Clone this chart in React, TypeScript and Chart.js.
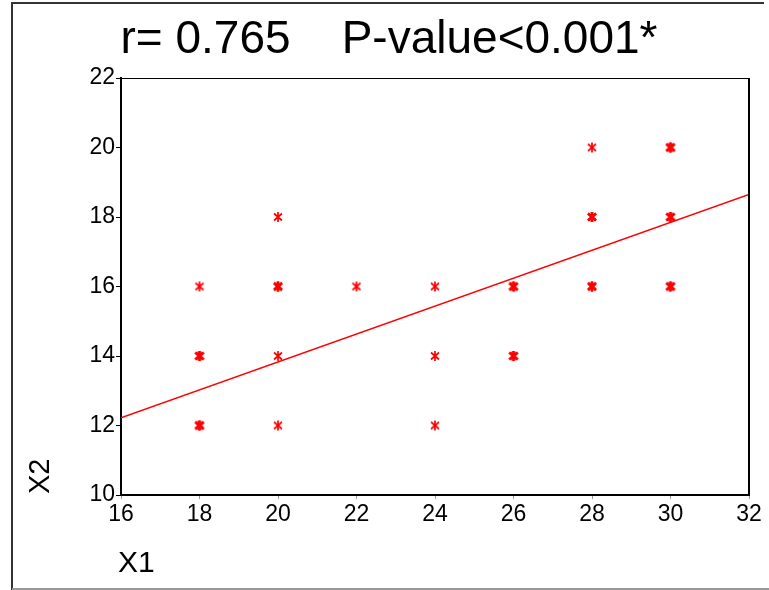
import React, { useEffect, useRef } from "react";
import { Chart, registerables } from "chart.js";

Chart.register(...registerables);

const titleText = "r= 0.765    P-value<0.001*";
const xTitle = "X1";
const yTitle = "X2";

// observed points (repeats = overlapping observations)
const x1Values = [18, 18, 18, 18, 18, 20, 20, 20, 20, 20, 22, 24, 24, 24, 26, 26, 26, 26, 28, 28, 28, 28, 28, 30, 30, 30, 30, 30, 30];
const x2Values = [16, 14, 14, 12, 12, 18, 16, 16, 14, 12, 16, 16, 14, 12, 16, 16, 14, 14, 20, 18, 18, 16, 16, 20, 20, 18, 18, 16, 16];

// fitted regression line end points
const fitX = [16, 32];
const fitY = [12.22, 18.65];

const xTicks = [16, 18, 20, 22, 24, 26, 28, 30, 32];
const yTicks = [10, 12, 14, 16, 18, 20, 22];

function makeStar(lw: number): HTMLCanvasElement {
  const c = document.createElement("canvas");
  c.width = 12;
  c.height = 12;
  const g = c.getContext("2d")!;
  g.strokeStyle = "#ff0000";
  g.lineWidth = lw;
  g.lineCap = "butt";
  g.beginPath();
  g.moveTo(6, 1);
  g.lineTo(6, 11);
  g.moveTo(2, 2.5);
  g.lineTo(10, 9.5);
  g.moveTo(10, 2.5);
  g.lineTo(2, 9.5);
  g.stroke();
  return c;
}

export default function App() {
  const ref = useRef<HTMLCanvasElement | null>(null);
  useEffect(() => {
    document.body.style.margin = "0";
    const canvas = ref.current!;
    const thin = makeStar(1.7);
    const bold = makeStar(2.5);
    const pts = x1Values.map((x, i) => ({ x, y: x2Values[i] }));
    const counts = pts.map((p) => pts.filter((q) => q.x === p.x && q.y === p.y).length);

    const framePlugin = {
      id: "frame",
      beforeDraw(chart: any) {
        const c = chart.ctx;
        c.save();
        c.fillStyle = "#fff";
        c.fillRect(0, 0, chart.width, chart.height);
        c.strokeStyle = "#333";
        c.lineWidth = 2;
        c.beginPath();
        c.moveTo(12, 590);
        c.lineTo(12, 3);
        c.lineTo(764, 3);
        c.stroke();
        c.strokeStyle = "#999";
        c.beginPath();
        c.moveTo(12, 589);
        c.lineTo(769, 589);
        c.stroke();
        c.restore();
      },
      afterDraw(chart: any) {
        const c = chart.ctx;
        const a = chart.chartArea;
        c.save();
        c.strokeStyle = "#000";
        c.lineWidth = 1;
        c.beginPath();
        c.moveTo(a.left, a.top + 0.5);
        c.lineTo(a.right, a.top + 0.5);
        c.stroke();
        c.lineWidth = 2;
        c.beginPath();
        c.moveTo(a.right, a.top);
        c.lineTo(a.right, a.bottom);
        c.stroke();
        c.fillStyle = "#000";
        c.font = "46px 'Liberation Sans', Arial, sans-serif";
        c.textAlign = "center";
        c.textBaseline = "alphabetic";
        c.fillText(titleText, 389, 53);
        c.font = "30px 'Liberation Sans', Arial, sans-serif";
        c.textAlign = "left";
        c.fillText(xTitle, 118, 572);
        c.translate(49, 494);
        c.rotate(-Math.PI / 2);
        c.font = "29px 'Liberation Sans', Arial, sans-serif";
        c.fillText(yTitle, 0, 0);
        c.restore();
      },
    };

    const chart = new Chart(canvas, {
      type: "scatter",
      data: {
        datasets: [
          {
            type: "line",
            data: fitX.map((x, i) => ({ x, y: fitY[i] })),
            borderColor: "#ff0000",
            borderWidth: 1.5,
            pointRadius: 0,
            fill: false,
          } as any,
          {
            data: pts,
            pointStyle: (ctx: any) => (counts[ctx.dataIndex] > 1 ? bold : thin),
            pointRadius: 6,
            borderColor: "#ff0000",
            backgroundColor: "#ff0000",
          } as any,
        ],
      },
      options: {
        responsive: false,
        animation: false,
        layout: { padding: { left: 71, top: 78, right: 20, bottom: 55 } },
        plugins: {
          legend: { display: false },
          tooltip: { enabled: false },
          title: { display: false },
        },
        scales: {
          x: {
            type: "linear",
            min: 16,
            max: 32,
            afterFit: (s: any) => {
              s.height = 40;
            },
            afterBuildTicks: (s: any) => {
              s.ticks = xTicks.map((v) => ({ value: v }));
            },
            border: { display: true, color: "#000", width: 2 },
            grid: { drawOnChartArea: false, drawTicks: true, tickLength: 4, color: "#999" },
            ticks: {
              color: "#000",
              padding: 2,
              maxRotation: 0,
              autoSkip: false,
              font: { family: "'Liberation Sans', Arial, sans-serif", size: 23 },
            },
          },
          y: {
            type: "linear",
            min: 10,
            max: 22,
            afterFit: (s: any) => {
              s.width = 50;
            },
            afterBuildTicks: (s: any) => {
              s.ticks = yTicks.map((v) => ({ value: v }));
            },
            border: { display: true, color: "#000", width: 2 },
            grid: { drawOnChartArea: false, drawTicks: true, tickLength: 5, color: "#000" },
            ticks: {
              color: "#000",
              padding: 1,
              autoSkip: false,
              font: { family: "'Liberation Sans', Arial, sans-serif", size: 23 },
            },
          },
        },
      },
      plugins: [framePlugin],
    } as any);
    return () => chart.destroy();
  }, []);
  return (
    <div style={{ position: "fixed", left: 0, top: 0, width: 769, height: 590, background: "#fff" }}>
      <canvas ref={ref} width={769} height={590} style={{ width: 769, height: 590, display: "block" }} />
    </div>
  );
}
